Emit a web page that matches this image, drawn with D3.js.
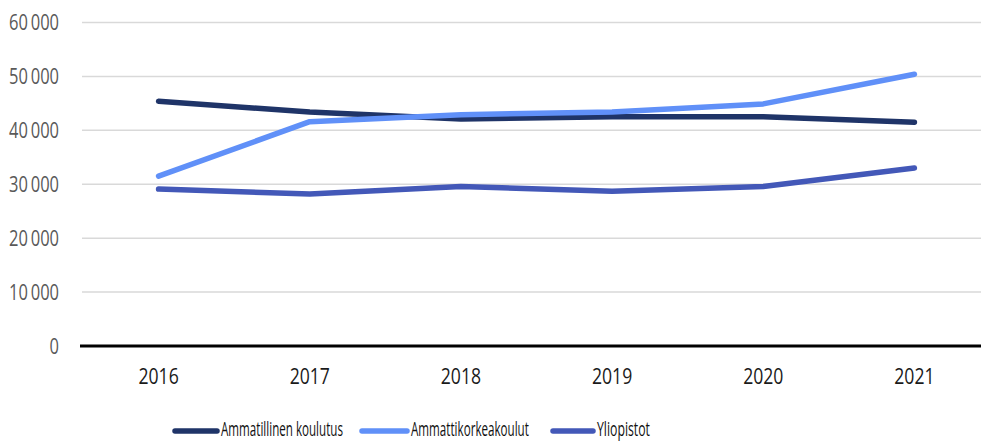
<!DOCTYPE html>
<html><head><meta charset="utf-8">
<script src="https://cdn.jsdelivr.net/npm/d3@7"></script>
<style>body{margin:0;background:#fff}svg{display:block;font-family:"Open Sans",sans-serif}</style>
</head><body>
<svg id="c" width="981" height="441"></svg>
<script>
const years = ["2016","2017","2018","2019","2020","2021"];
const ammatillinen = [45400, 43400, 42100, 42500, 42500, 41500];
const amk = [31500, 41600, 42900, 43400, 44900, 50400];
const yliopistot = [29100, 28200, 29600, 28700, 29600, 33000];
const yTicks = [0, 10000, 20000, 30000, 40000, 50000, 60000];
const seriesNames = ["Ammatillinen koulutus", "Ammattikorkeakoulut", "Yliopistot"];
const colors = ["#1f3468", "#6090f8", "#4358b8"];
const series = [ammatillinen, amk, yliopistot];

const svg = d3.select("#c");
const x = d3.scaleBand().domain(years).range([83, 990]);
const y = d3.scaleLinear().domain([0, 60000]).range([346, 22.5]);
const fmt = v => v === 0 ? "0" : d3.format(",")(v).replace(",", "\u2009");

// gridlines
svg.append("g").selectAll("line").data(yTicks.filter(d => d > 0)).join("line")
  .attr("x1", 82).attr("x2", 981).attr("y1", d => y(d)).attr("y2", d => y(d))
  .attr("stroke", "#d9d9d9").attr("stroke-width", 1.5);

// y labels
svg.append("g").selectAll("text").data(yTicks).join("text")
  .attr("transform", d => `translate(59,${y(d)}) scale(0.75,1)`)
  .attr("dy", "0.36em").attr("text-anchor", "end")
  .attr("fill", "#595959").attr("font-size", 22).text(fmt);

// x axis line
svg.append("line").attr("x1", 80).attr("x2", 981).attr("y1", y(0)).attr("y2", y(0))
  .attr("stroke", "#000").attr("stroke-width", 3);

// x labels
svg.append("g").selectAll("text").data(years).join("text")
  .attr("transform", d => `translate(${x(d) + x.bandwidth() / 2},376) scale(0.8,1)`)
  .attr("dy", "0.36em").attr("text-anchor", "middle").attr("fill", "#1a1a1a")
  .attr("font-size", 22).text(d => d);

// lines
const line = d3.line().x((d, i) => x(years[i]) + x.bandwidth() / 2).y(d => y(d));
series.forEach((s, i) => {
  svg.append("path").datum(s).attr("d", line).attr("fill", "none")
    .attr("stroke", colors[i]).attr("stroke-width", 5.5)
    .attr("stroke-linecap", "round").attr("stroke-linejoin", "round");
});

// legend
const legendX = [175, 362, 553];
const legendW = [42, 45, 40];
const legendTextW = [122, 118, 53];
const lg = svg.append("g");
seriesNames.forEach((n, i) => {
  lg.append("line").attr("x1", legendX[i]).attr("x2", legendX[i] + legendW[i])
    .attr("y1", 431).attr("y2", 431).attr("stroke", colors[i]).attr("stroke-width", 5.5)
    .attr("stroke-linecap", "round");
  const t = lg.append("text").attr("fill", "#111").attr("font-size", 20).text(n);
  const w = t.node().getComputedTextLength();
  t.attr("transform", `translate(${legendX[i] + legendW[i] + 4},436) scale(${legendTextW[i] / w},1)`);
});
</script>
</body></html>
